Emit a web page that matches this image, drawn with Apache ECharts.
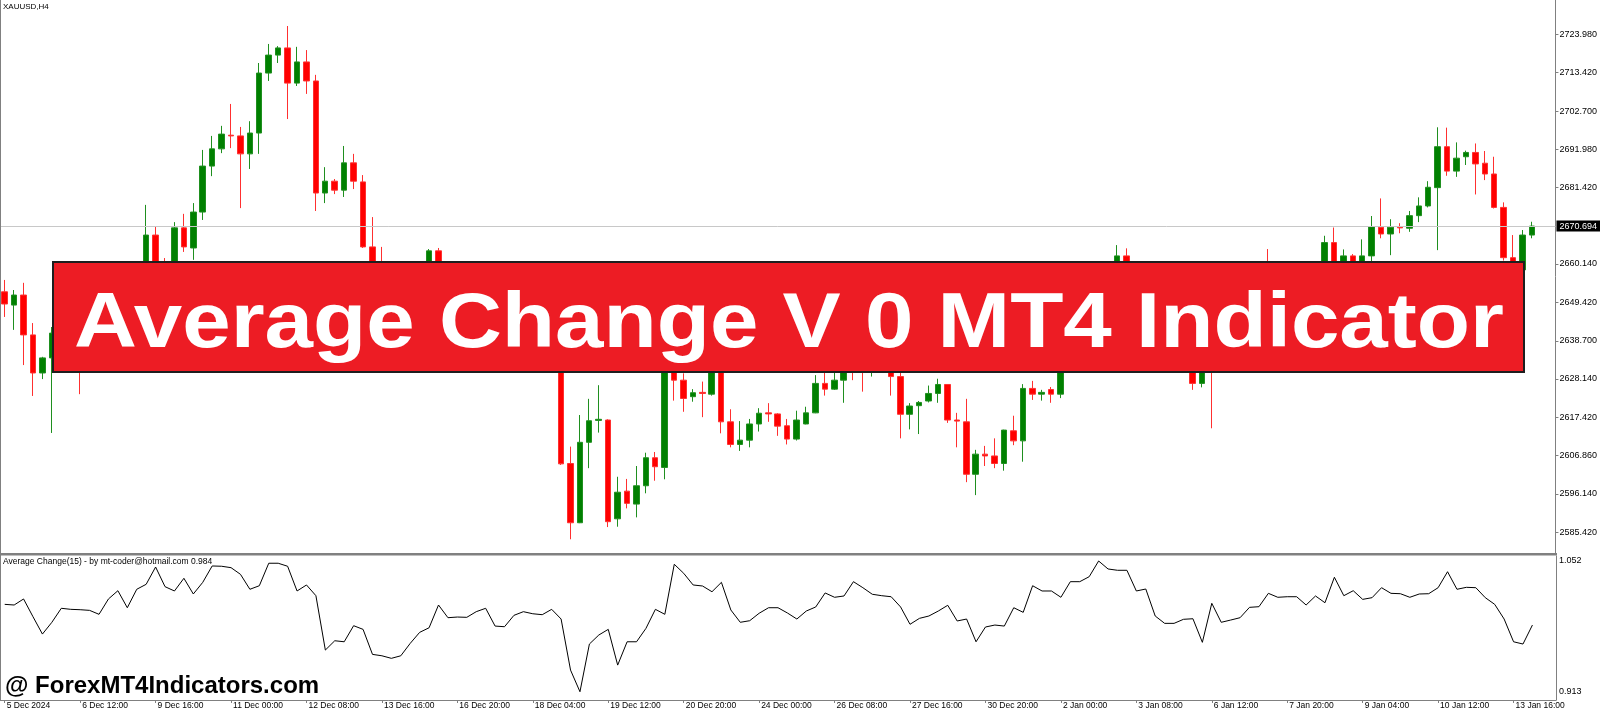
<!DOCTYPE html>
<html><head><meta charset="utf-8">
<script src="https://cdn.jsdelivr.net/npm/echarts@6/dist/echarts.min.js"></script>
<style>html,body{margin:0;padding:0;background:#fff;}#c{width:1600px;height:710px;}</style>
</head><body><div id="c"></div>
<script>
const symbolName = 'XAUUSD,H4';
const indicatorName = 'Average Change(15) - by mt-coder@hotmail.com 0.984';
const bannerText = 'Average Change V 0 MT4 Indicator';
const watermarkText = '@ ForexMT4Indicators.com';
const timeLabels = ['5 Dec 2024','6 Dec 12:00','9 Dec 16:00','11 Dec 00:00','12 Dec 08:00','13 Dec 16:00','16 Dec 20:00','18 Dec 04:00','19 Dec 12:00','20 Dec 20:00','24 Dec 00:00','26 Dec 08:00','27 Dec 16:00','30 Dec 20:00','2 Jan 00:00','3 Jan 08:00','6 Jan 12:00','7 Jan 20:00','9 Jan 04:00','10 Jan 12:00','13 Jan 16:00'];
const priceTicks = [2723.98,2713.42,2702.70,2691.98,2681.42,2660.14,2649.42,2638.70,2628.14,2617.42,2606.86,2596.14,2585.42];
const lastPrice = 2670.694;
const indicatorTicks = [1.052, 0.913];

const openPrices = [2652.4,2648.7,2651.5,2640.4,2629.8,2634.0,2640.9,2645.0,2641.0,2632.0,
2640.0,2645.0,2648.0,2650.0,2653.0,2657.0,2668.2,2659.0,2657.0,2670.2,
2664.6,2674.6,2687.4,2692.2,2696.0,2695.8,2690.8,2696.6,2713.3,2718.3,
2720.3,2710.5,2716.4,2711.1,2679.9,2683.2,2680.7,2688.3,2683.0,2664.9,
2655.0,2650.0,2653.0,2649.5,2652.0,2655.5,2663.8,2655.0,2651.0,2654.0,
2650.0,2645.0,2648.5,2646.0,2643.0,2647.0,2645.0,2639.0,2642.0,2636.0,
2604.6,2588.1,2610.5,2616.6,2616.7,2589.2,2596.9,2593.3,2598.4,2606.2,
2603.5,2636.0,2627.8,2623.2,2624.4,2623.9,2631.5,2616.2,2609.9,2611.1,
2615.6,2618.7,2618.4,2615.1,2611.4,2615.6,2618.7,2626.9,2625.3,2627.8,
2634.0,2635.0,2631.5,2636.5,2633.0,2628.8,2618.3,2620.7,2622.0,2624.1,
2626.6,2616.7,2616.2,2601.6,2607.2,2606.7,2604.6,2613.7,2610.9,2625.5,
2623.9,2625.2,2623.9,2633.0,2639.0,2643.5,2641.0,2650.0,2655.0,2662.4,
2654.0,2648.0,2651.5,2645.0,2640.0,2643.0,2636.0,2626.9,2636.0,2632.0,
2638.0,2642.0,2639.5,2646.0,2652.0,2648.0,2652.0,2649.0,2654.0,2656.0,
2653.0,2666.1,2658.0,2662.4,2657.0,2662.4,2670.4,2668.5,2670.4,2670.1,
2673.6,2676.3,2681.4,2692.8,2686.0,2690.0,2691.2,2688.2,2685.2,2675.9,
2661.9,2658.5,2668.2];
const highPrices = [2655.7,2652.9,2654.9,2643.7,2634.3,2642.6,2648.0,2650.0,2645.0,2642.0,
2647.0,2651.0,2654.0,2656.0,2659.0,2676.6,2670.7,2661.8,2671.8,2674.1,
2677.1,2691.9,2695.8,2698.6,2704.7,2698.3,2699.9,2716.1,2721.4,2720.8,
2726.4,2720.6,2719.7,2712.8,2687.1,2683.8,2693.0,2690.8,2684.9,2673.2,
2664.9,2656.0,2658.0,2655.0,2657.5,2664.3,2664.6,2659.0,2656.0,2658.0,
2654.0,2651.0,2653.0,2650.0,2649.0,2652.0,2648.0,2645.0,2646.0,2640.0,
2609.3,2618.1,2622.6,2626.4,2616.9,2600.9,2600.3,2603.9,2607.6,2607.8,
2640.0,2641.0,2629.7,2625.3,2627.4,2634.0,2633.0,2619.7,2616.4,2617.0,
2620.0,2621.4,2618.6,2617.0,2619.3,2620.4,2629.2,2629.9,2629.9,2636.5,
2637.5,2638.0,2638.0,2640.0,2636.0,2629.9,2621.4,2622.0,2626.3,2628.2,
2626.7,2618.7,2622.6,2608.4,2609.5,2611.6,2614.0,2617.9,2626.7,2627.6,
2625.1,2625.9,2636.0,2641.0,2646.0,2647.0,2652.0,2658.0,2665.4,2664.5,
2657.0,2654.0,2654.5,2648.0,2646.0,2645.0,2639.0,2639.0,2640.0,2641.0,
2645.0,2646.0,2648.0,2652.0,2664.3,2655.0,2656.0,2657.0,2659.0,2659.5,
2668.0,2670.3,2664.2,2662.9,2667.0,2673.5,2678.4,2672.6,2671.5,2674.9,
2678.7,2683.2,2698.2,2698.1,2694.0,2691.7,2693.7,2691.6,2690.0,2677.3,
2668.2,2669.6,2671.9];
const lowPrices = [2645.4,2641.8,2632.0,2623.4,2628.1,2613.1,2636.0,2638.0,2623.9,2630.8,
2637.0,2641.0,2644.0,2646.0,2650.0,2654.0,2656.0,2653.0,2655.0,2663.5,
2661.3,2672.4,2684.6,2691.0,2692.4,2675.7,2686.6,2690.8,2711.1,2716.1,
2700.5,2709.7,2707.5,2674.9,2677.1,2679.6,2678.8,2681.0,2664.6,2652.0,
2647.0,2645.0,2648.0,2644.0,2649.0,2652.5,2652.0,2648.0,2646.0,2649.0,
2642.0,2641.0,2644.0,2640.0,2639.0,2643.0,2636.0,2635.0,2633.0,2604.2,
2583.5,2588.0,2603.3,2613.2,2586.9,2587.0,2592.1,2589.6,2596.3,2599.8,
2600.2,2622.1,2619.0,2621.8,2617.5,2623.5,2613.0,2609.1,2608.1,2609.1,
2613.5,2616.2,2612.3,2609.9,2611.0,2615.5,2618.6,2623.5,2625.1,2621.5,
2627.8,2624.6,2628.8,2631.0,2623.5,2611.6,2614.1,2612.8,2621.6,2621.5,
2615.9,2609.1,2599.4,2595.8,2603.9,2603.3,2602.6,2609.7,2605.1,2622.3,
2622.1,2621.5,2622.8,2631.0,2636.0,2638.0,2639.0,2647.0,2652.0,2651.0,
2646.0,2645.0,2643.0,2637.0,2637.5,2633.0,2625.1,2625.8,2614.4,2631.0,
2635.0,2637.0,2638.0,2643.0,2645.0,2645.0,2646.0,2647.0,2650.0,2651.0,
2651.0,2655.0,2655.0,2654.0,2655.0,2659.0,2667.3,2662.6,2668.7,2669.1,
2671.8,2675.9,2664.0,2684.7,2684.4,2687.7,2679.5,2683.5,2675.6,2661.1,
2656.0,2656.5,2667.3];
const closePrices = [2649.0,2651.5,2640.4,2629.8,2634.0,2640.9,2645.0,2641.0,2632.0,2640.0,
2645.0,2648.0,2650.0,2653.0,2657.0,2668.2,2659.0,2657.0,2670.2,2664.9,
2674.6,2687.4,2692.2,2696.3,2695.8,2690.8,2696.6,2713.3,2718.3,2720.3,
2710.5,2716.4,2711.1,2679.9,2683.2,2680.7,2688.3,2683.2,2664.9,2655.0,
2650.0,2653.0,2649.5,2652.0,2655.5,2663.8,2655.0,2651.0,2654.0,2650.0,
2645.0,2648.5,2646.0,2643.0,2647.0,2645.0,2639.0,2642.0,2636.0,2604.5,
2588.1,2610.5,2616.5,2616.9,2588.4,2596.6,2593.5,2598.4,2606.2,2603.7,
2636.0,2627.8,2622.7,2624.3,2624.1,2631.5,2616.2,2609.9,2611.1,2615.6,
2618.6,2618.4,2615.0,2611.4,2616.7,2618.7,2626.9,2625.3,2627.8,2634.0,
2632.0,2631.5,2636.5,2633.0,2628.8,2618.3,2620.6,2621.6,2624.1,2626.6,
2616.7,2616.4,2601.6,2607.2,2606.7,2604.6,2613.9,2610.9,2625.5,2623.9,
2624.4,2623.9,2633.0,2639.0,2643.5,2641.0,2650.0,2655.0,2662.4,2654.0,
2648.0,2651.5,2645.0,2640.0,2643.0,2636.0,2626.9,2636.0,2632.0,2638.0,
2642.0,2639.5,2646.0,2650.0,2648.0,2652.0,2649.0,2654.0,2656.0,2653.0,
2666.1,2658.0,2662.4,2657.0,2662.4,2670.5,2668.5,2670.4,2670.2,2673.6,
2676.3,2681.5,2692.8,2686.0,2689.6,2691.2,2688.0,2685.2,2675.9,2661.9,
2658.5,2668.2,2670.694];
const avgChange = [1.0059,1.0052,1.0116,0.9927,0.9743,0.9868,1.0017,1.0006,1.0002,0.9995,
0.9953,1.0116,1.0204,1.0023,1.0219,1.0272,1.0456,1.0247,1.0201,1.0336,
1.0169,1.0293,1.0467,1.0464,1.0449,1.0378,1.0219,1.0257,1.0496,1.0496,
1.0464,1.0201,1.0265,1.0151,0.9573,0.9672,0.9661,0.9832,0.9793,0.9527,
0.9512,0.9485,0.9512,0.9644,0.9761,0.9810,1.0052,0.9917,0.9924,0.9921,
0.9981,1.0017,0.9828,0.9821,0.9942,0.9981,0.9959,0.9949,1.0006,0.9903,
0.9360,0.9130,0.9637,0.9733,0.9793,0.9413,0.9661,0.9661,0.9804,1.0006,
0.9953,1.0485,1.0389,1.0265,1.0254,1.0193,1.0293,0.9999,0.9868,0.9885,
0.9964,1.0023,1.0023,0.9967,0.9903,0.9988,1.0031,1.0180,1.0134,1.0148,
1.0300,1.0236,1.0166,1.0151,1.0140,1.0031,0.9847,0.9910,0.9935,0.9988,
1.0049,0.9882,0.9903,0.9661,0.9818,0.9839,0.9828,1.0023,0.9974,1.0257,
1.0201,1.0201,1.0134,1.0300,1.0300,1.0353,1.0520,1.0435,1.0421,1.0421,
1.0201,1.0222,0.9935,0.9857,0.9857,0.9900,0.9906,0.9655,1.0070,0.9868,
0.9892,0.9917,1.0027,1.0034,1.0176,1.0134,1.0140,1.0140,1.0052,1.0148,
1.0076,1.0347,1.0151,1.0204,1.0112,1.0130,1.0236,1.0176,1.0172,1.0134,
1.0169,1.0172,1.0236,1.0406,1.0219,1.0240,1.0236,1.0130,1.0059,0.9903,
0.9661,0.9637,0.9839];

const SLOTS = 165;
const LABEL_STEP = 8;
const categories = Array.from({length: SLOTS}, (_, i) => String(i));
const candles = openPrices.map((o, i) => [o, closePrices[i], lowPrices[i], highPrices[i]]);
const labelAt = (idx) => idx % LABEL_STEP === 0 && (idx / LABEL_STEP) < timeLabels.length;
const FONT = '"Liberation Sans", Arial, sans-serif';
const AXIS_GRAY = '#808080';

const chart = echarts.init(document.getElementById('c'), null, {renderer: 'canvas'});
chart.setOption({
  animation: false,
  backgroundColor: '#ffffff',
  textStyle: {fontFamily: FONT},
  grid: [
    {left: -4, right: 44, top: 0, height: 553},
    {left: -4, right: 44, top: 556, height: 144}
  ],
  xAxis: [
    {type: 'category', gridIndex: 0, data: categories, boundaryGap: true,
     axisLine: {show: false}, axisTick: {show: false}, axisLabel: {show: false}, splitLine: {show: false}},
    {type: 'category', gridIndex: 1, data: categories, boundaryGap: true,
     axisLine: {show: true, lineStyle: {color: AXIS_GRAY, width: 1}},
     axisTick: {show: true, alignWithLabel: true, interval: labelAt, length: 3, lineStyle: {color: AXIS_GRAY}},
     axisLabel: {show: true, interval: labelAt, align: 'left', margin: 1, padding: [0, 0, 0, 2], fontSize: 8.5, color: '#000', fontFamily: FONT,
       formatter: (v, idx) => labelAt(idx) ? timeLabels[idx / LABEL_STEP] : ''},
     splitLine: {show: false}}
  ],
  yAxis: [
    {type: 'value', gridIndex: 0, position: 'right', min: 2579.68, max: 2733.64,
     axisLine: {show: true, lineStyle: {color: AXIS_GRAY, width: 1}},
     axisTick: {show: true, length: 3, customValues: priceTicks, lineStyle: {color: AXIS_GRAY}},
     axisLabel: {show: true, customValues: priceTicks, formatter: v => v.toFixed(3), margin: 4, fontSize: 9, color: '#000', fontFamily: FONT},
     splitLine: {show: false}},
    {type: 'value', gridIndex: 1, position: 'right', min: 0.9042, max: 1.0573,
     axisLine: {show: true, lineStyle: {color: AXIS_GRAY, width: 1}},
     axisTick: {show: false},
     axisLabel: {show: true, customValues: indicatorTicks, formatter: v => v.toFixed(3), margin: 3, fontSize: 9, color: '#000', fontFamily: FONT},
     splitLine: {show: false}}
  ],
  series: [
    {type: 'candlestick', xAxisIndex: 0, yAxisIndex: 0, data: candles, barWidth: 6,
     itemStyle: {color: '#008000', color0: '#ff0000', borderColor: '#1f8f1f', borderColor0: '#ff3030', borderWidth: 1},
     markLine: {silent: true, symbol: ['none', 'none'], animation: false,
       lineStyle: {color: '#c8c8c8', width: 1, type: 'solid'},
       label: {show: true, position: 'end', formatter: () => lastPrice.toFixed(3), color: '#fff', backgroundColor: '#000',
         padding: [1, 3, 1, 3], fontSize: 9, distance: 1, fontFamily: FONT},
       data: [{yAxis: lastPrice}]},
     z: 3},
    {type: 'line', xAxisIndex: 1, yAxisIndex: 1, data: avgChange, symbol: 'none', smooth: false,
     lineStyle: {color: '#000', width: 1}, z: 3}
  ],
  graphic: [
    {type: 'line', z: 50, shape: {x1: 0.5, y1: 0, x2: 0.5, y2: 700}, style: {stroke: AXIS_GRAY, lineWidth: 1}},
    {type: 'rect', z: 50, shape: {x: 0, y: 553, width: 1557, height: 2.5}, style: {fill: AXIS_GRAY}},
    {type: 'text', z: 60, x: 3, y: 3, style: {text: symbolName, font: '8px ' + FONT, fill: '#000', verticalAlign: 'top'}},
    {type: 'text', z: 60, x: 3, y: 557, style: {text: indicatorName, font: '8.5px ' + FONT, fill: '#000', verticalAlign: 'top'}},
    {type: 'rect', z: 100, shape: {x: 53, y: 262, width: 1471, height: 110}, style: {fill: '#ed1c24', stroke: '#1e1e1e', lineWidth: 2}},
    {type: 'text', z: 101, x: 789, y: 325, scaleX: 1.117, style: {text: bannerText, font: 'bold 78px ' + FONT, fill: '#ffffff', align: 'center', verticalAlign: 'middle'}},
    {type: 'text', z: 101, x: 5, y: 686, style: {text: watermarkText, font: 'bold 24px ' + FONT, fill: '#000000', verticalAlign: 'middle'}}
  ]
});
</script>
</body></html>
